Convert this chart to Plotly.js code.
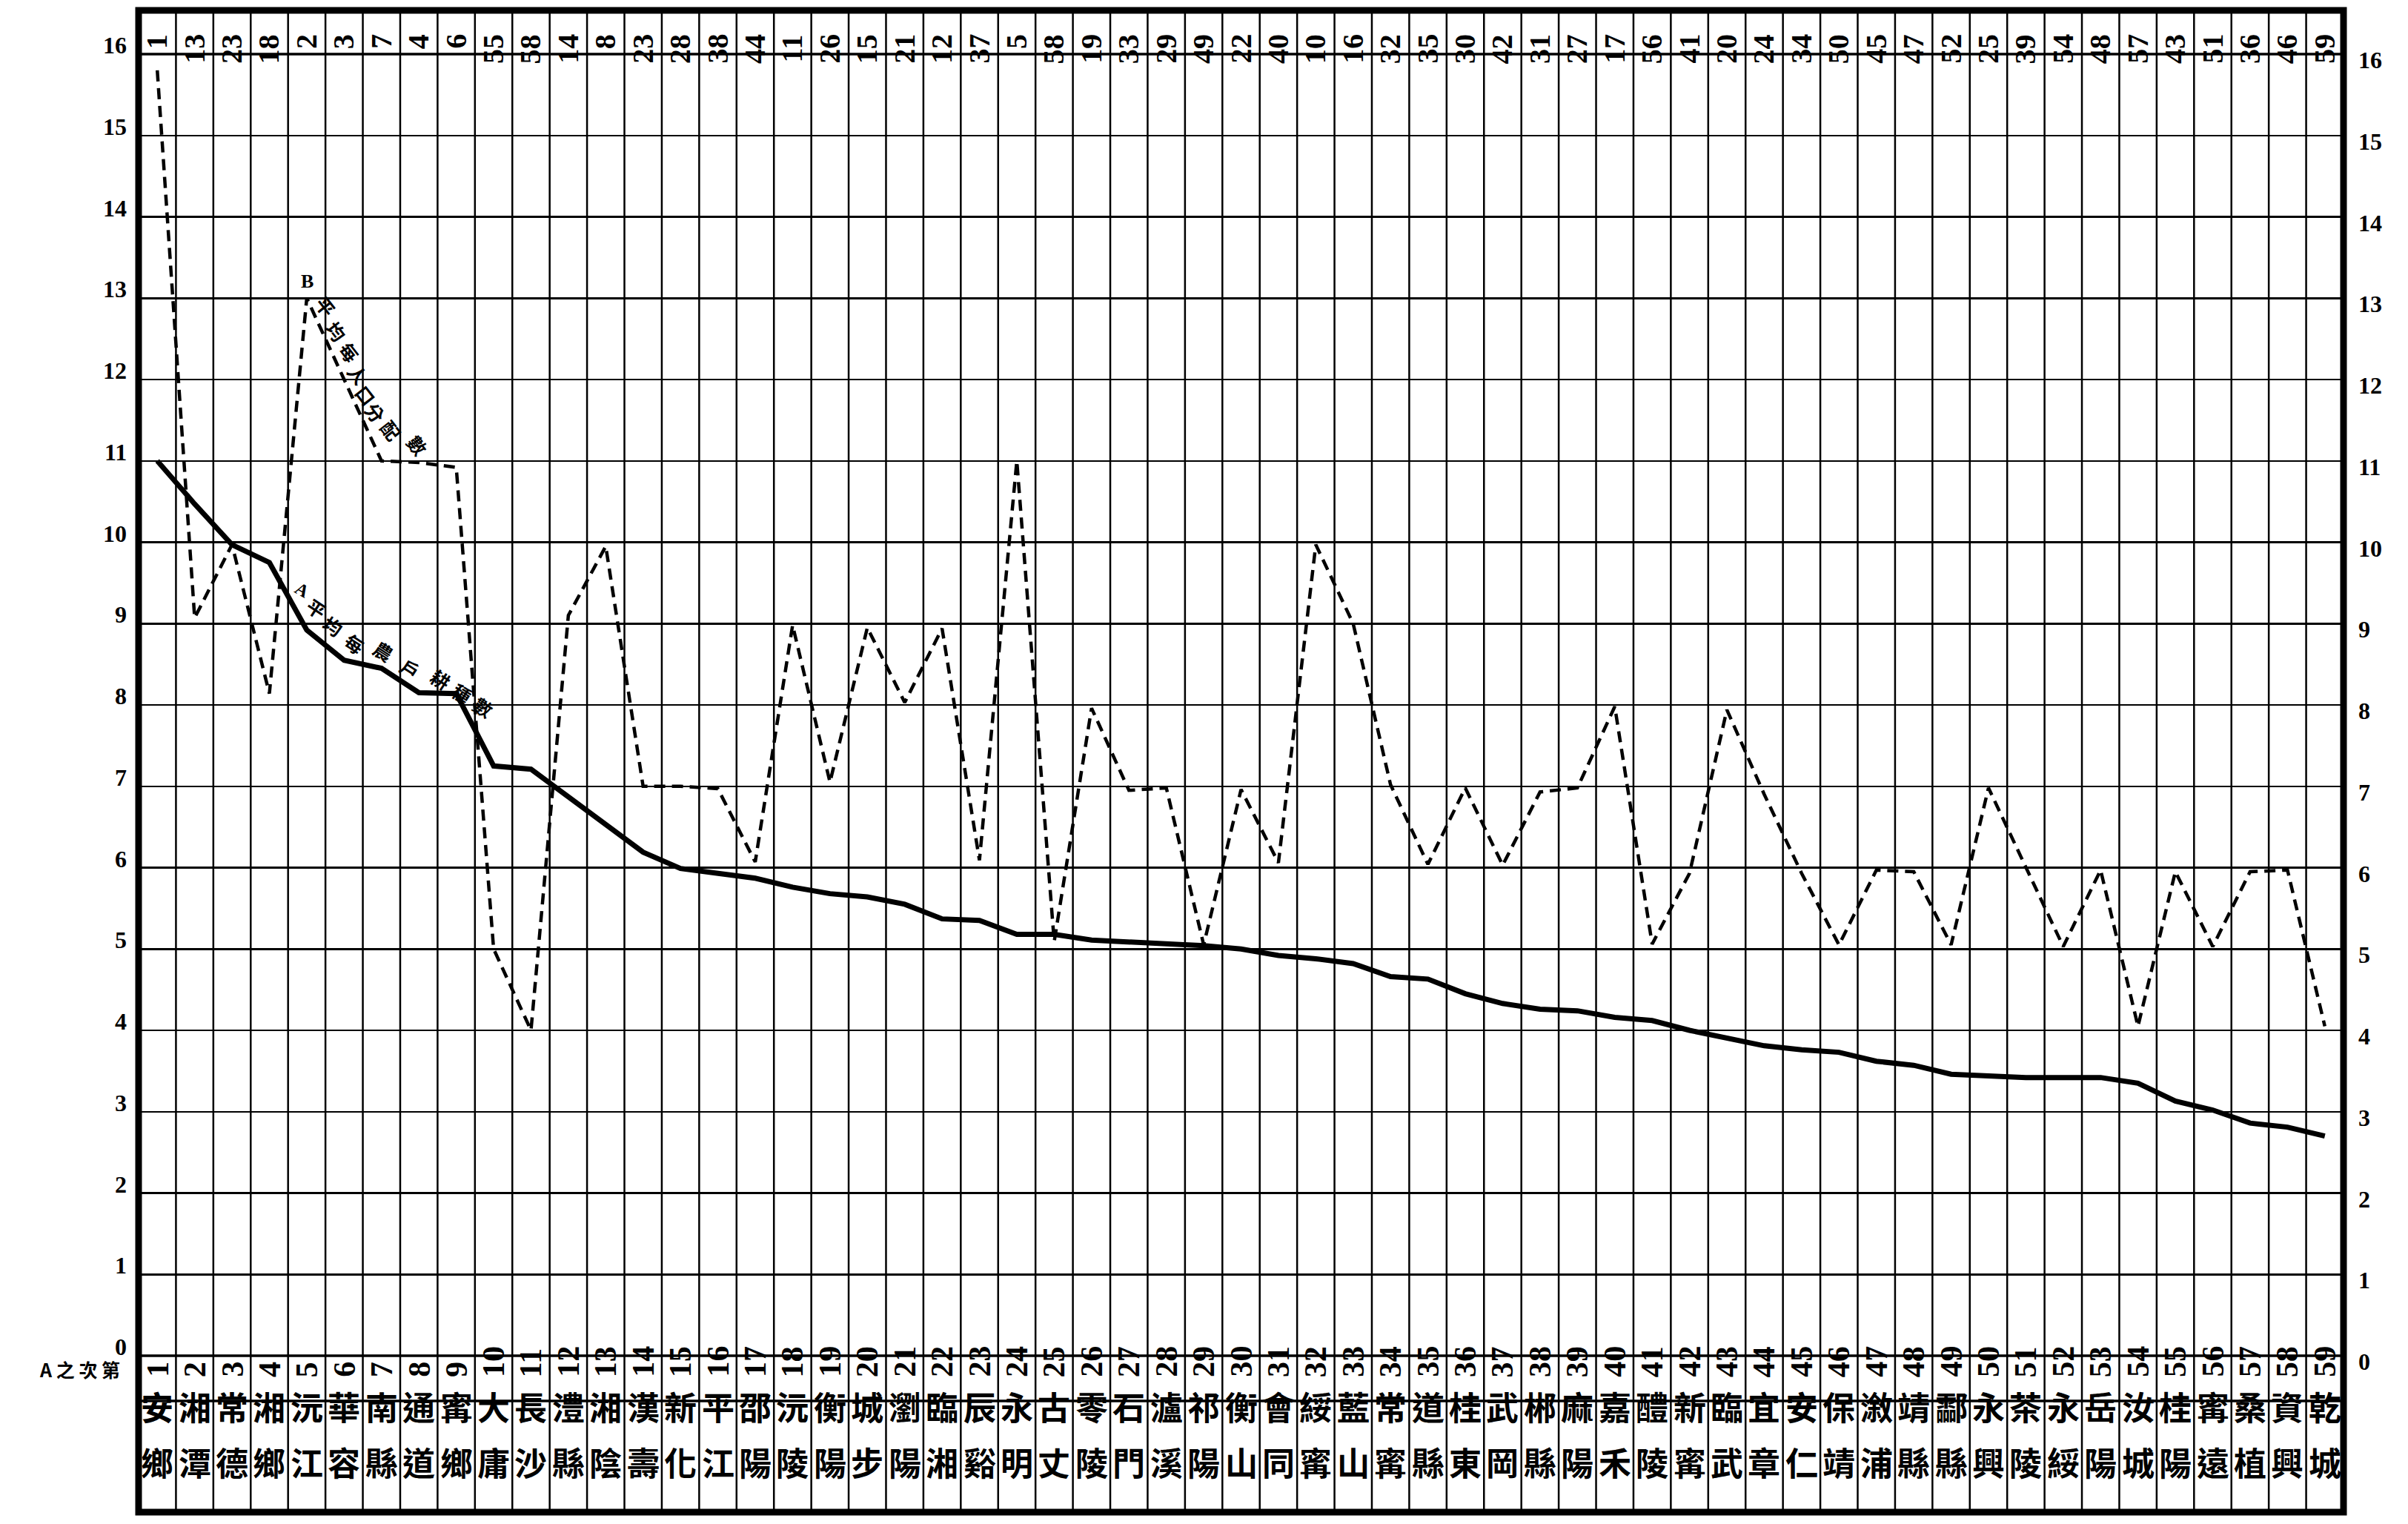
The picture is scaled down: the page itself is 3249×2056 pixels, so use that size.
<!DOCTYPE html>
<html>
<head>
<meta charset="utf-8">
<script src="https://cdn.plot.ly/plotly-3.0.1.min.js"></script>
<style>
html,body{margin:0;padding:0;background:#ffffff;}
#chart{width:3249px;height:2056px;}
</style>
</head>
<body>
<div id="chart"></div>
<script>
// ---- data ----
const rankA = [1,2,3,4,5,6,7,8,9,10,11,12,13,14,15,16,17,18,19,20,21,22,23,24,25,26,27,28,29,30,
  31,32,33,34,35,36,37,38,39,40,41,42,43,44,45,46,47,48,49,50,51,52,53,54,55,56,57,58,59];

const countyNames = ["安鄉","湘潭","常德","湘鄉","沅江","華容","南縣","通道","寗鄉","大庸",
  "長沙","澧縣","湘陰","漢壽","新化","平江","邵陽","沅陵","衡陽","城步",
  "瀏陽","臨湘","辰谿","永明","古丈","零陵","石門","瀘溪","祁陽","衡山",
  "會同","綏寗","藍山","常寗","道縣","桂東","武岡","郴縣","麻陽","嘉禾",
  "醴陵","新寗","臨武","宜章","安仁","保靖","漵浦","靖縣","酃縣","永興",
  "茶陵","永綏","岳陽","汝城","桂陽","寗遠","桑植","資興","乾城"];

const rankB = [1,13,23,18,2,3,7,4,6,55,58,14,8,23,28,38,44,11,26,15,21,12,37,5,58,
  19,33,29,49,22,40,10,16,32,35,30,42,31,27,17,56,41,20,24,34,50,45,47,52,25,
  39,54,48,57,43,51,36,46,59];

// A: 平均每農戶耕種數 (solid line)
const valuesA = [11.0,10.47,9.97,9.75,8.92,8.55,8.45,8.15,8.14,7.25,
  7.21,6.87,6.54,6.19,5.99,5.93,5.87,5.76,5.68,5.64,
  5.55,5.37,5.35,5.18,5.18,5.11,5.09,5.06,5.04,5.0,
  4.92,4.88,4.82,4.66,4.63,4.45,4.33,4.26,4.24,4.16,
  4.12,4.0,3.9,3.81,3.76,3.73,3.62,3.57,3.46,3.44,
  3.42,3.42,3.42,3.35,3.13,3.02,2.86,2.81,2.70];

// B: 平均每人口分配數 (dashed line)
const valuesB = [15.8,9.07,9.97,8.14,13.0,12.0,11.0,10.98,10.92,5.0,
  4.0,9.1,9.95,7.0,7.0,6.97,6.07,8.98,7.05,8.95,
  8.03,8.94,6.09,11.0,5.09,7.96,6.95,6.98,5.05,6.96,
  6.06,9.97,9.0,7.02,6.04,6.98,6.03,6.93,6.98,7.98,
  5.06,5.93,7.94,6.9,5.93,5.05,5.97,5.95,5.05,6.98,
  6.0,5.03,5.97,4.05,5.95,5.03,5.95,5.97,4.05];

const yTickValues = [0,1,2,3,4,5,6,7,8,9,10,11,12,13,14,15,16];

const labelA = "A平均每農戶耕種數";
const labelB = "B平均每人口分配數";
const rowHeader = "A 之 次 第";

// ---- layout helpers (positions only) ----
const W = 3249, H = 2056;
const M = {l:187, r:87, t:73, b:227};
const plotH = H - M.t - M.b;
const yBase = H - M.b;
const py = Y => (yBase - Y) / plotH;   // pixel row -> paper y

const numFont = "Liberation Serif, DejaVu Serif, serif";
const cjkFont = "Noto Sans CJK TC, Noto Sans CJK JP, sans-serif";

const xCols = rankA.map((_, i) => i + 1);

const traces = [
  {x: xCols, y: valuesB, type: 'scatter', mode: 'lines',
   line: {color: '#000', width: 4.5, dash: '15px,9px'}, hoverinfo: 'skip'},
  {x: xCols, y: valuesA, type: 'scatter', mode: 'lines',
   line: {color: '#000', width: 7}, hoverinfo: 'skip'}
];

const shapes = [];
const yTop = py(14), yBot = py(2040);
for (let k = 1; k < xCols.length; k++) {
  shapes.push({type:'line', xref:'x', yref:'paper', x0:k+0.5, x1:k+0.5, y0:yBot, y1:yTop,
    line:{color:'#000', width:2.5}, layer:'below'});
}
[1, 0, py(1890)].forEach(v => shapes.push({type:'line', xref:'paper', yref:'paper',
  x0:0, x1:1, y0:v, y1:v, line:{color:'#000', width:3.5}, layer:'above'}));
shapes.push({type:'rect', xref:'paper', yref:'paper', x0:0, x1:1, y0:yBot, y1:yTop,
  line:{color:'#000', width:9}, layer:'above'});

const ann = [];
// top row: B ranks
rankB.forEach((r, i) => ann.push({x: i+1, xref:'x', y: py(44), yref:'paper', text: String(r),
  showarrow:false, textangle:-90, font:{family:numFont, size:40, color:'#000', weight:'bold'}}));
// bottom rank row: A ranks
rankA.forEach((r, i) => ann.push({x: i+1, xref:'x', y: py(1860), yref:'paper', text: String(r),
  showarrow:false, textangle:-90, font:{family:numFont, size:42, color:'#000', weight:'bold'}}));
// county names (two characters stacked)
countyNames.forEach((n, i) => {
  const ch = Array.from(n);
  ann.push({x:i+1, xref:'x', y: py(1931), yref:'paper', text: ch[0], showarrow:false,
    font:{family:cjkFont, size:44, color:'#000', weight:'bold'}});
  ann.push({x:i+1, xref:'x', y: py(2006), yref:'paper', text: ch[1], showarrow:false,
    font:{family:cjkFont, size:44, color:'#000', weight:'bold'}});
});
// y tick labels both sides
yTickValues.forEach(v => {
  ann.push({x:0, xref:'paper', y:v, yref:'y', text:String(v), showarrow:false,
    xanchor:'right', xshift:-14, yshift:12,
    font:{family:numFont, size:32, color:'#000', weight:'bold'}});
  ann.push({x:1, xref:'paper', y:v, yref:'y', text:String(v), showarrow:false,
    xanchor:'left', xshift:18, yshift:-8,
    font:{family:numFont, size:32, color:'#000', weight:'bold'}});
});
// row header
ann.push({x:0, xref:'paper', y:py(1866), yref:'paper', text:rowHeader, showarrow:false,
  xanchor:'right', xshift:-24, borderpad:0,
  font:{family:cjkFont, size:25, color:'#000', weight:'bold'}});

// line labels placed character by character along the lines
const posA = [[4.88,9.38],[5.26,9.16],[5.70,8.94],[6.28,8.72],[7.05,8.63],[7.77,8.41],[8.58,8.28],[9.15,8.11],[9.74,7.94]];
const posB = [[5.02,13.21],[5.36,12.87],[5.65,12.56],[5.99,12.30],[6.23,12.03],[6.42,11.77],[6.67,11.56],[7.09,11.34],[7.80,11.16]];
Array.from(labelA).forEach((c, i) => ann.push({x:posA[i][0], y:posA[i][1], xref:'x', yref:'y',
  text:c, showarrow:false, textangle: i===0 ? 30 : 33, yshift: 4,
  font:{family: i===0 ? numFont : cjkFont, size: i===0 ? 24 : 25, color:'#000', weight:'bold'}}));
Array.from(labelB).forEach((c, i) => ann.push({x:posB[i][0], y:posB[i][1], xref:'x', yref:'y',
  text:c, showarrow:false, textangle: i===0 ? 0 : 52, xshift: i===0 ? 0 : 8, yshift: i===0 ? 0 : 4,
  font:{family: i===0 ? numFont : cjkFont, size: i===0 ? 26 : 25, color:'#000', weight:'bold'}}));

const layout = {
  width: W, height: H, autosize: false,
  margin: M,
  paper_bgcolor: '#fff', plot_bgcolor: '#fff',
  showlegend: false,
  xaxis: {range:[0.5, 59.5], showgrid:false, zeroline:false, showticklabels:false, ticks:'', showline:false, fixedrange:true},
  yaxis: {range:[0, 16], dtick:1, tick0:0, showgrid:true, gridcolor:'#000', gridwidth:2.5,
    zeroline:false, showticklabels:false, ticks:'', showline:false, fixedrange:true},
  shapes: shapes,
  annotations: ann
};

Plotly.newPlot('chart', traces, layout, {staticPlot:true, displayModeBar:false});
</script>
</body>
</html>
